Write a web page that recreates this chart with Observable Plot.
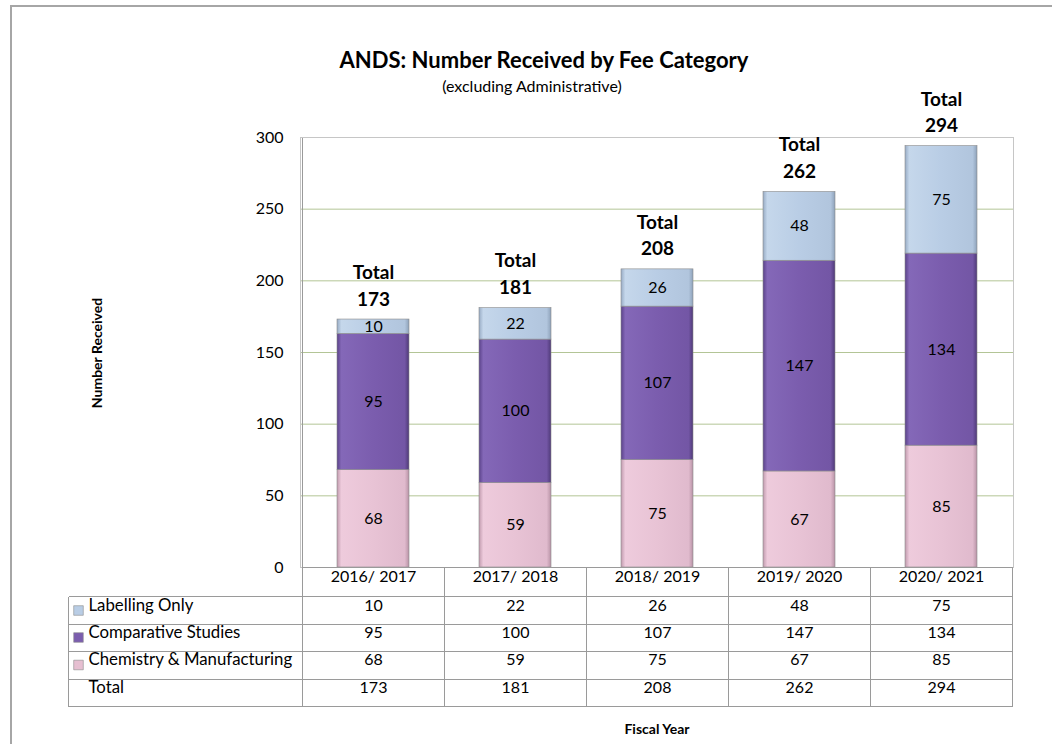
<!DOCTYPE html>
<html><head><meta charset="utf-8">
<script src="https://cdn.jsdelivr.net/npm/d3@7"></script>
<script src="https://cdn.jsdelivr.net/npm/@observablehq/plot@0.6"></script>
<style>
body{margin:0;background:#fff;font-family:Lato,"Open Sans",sans-serif;}
#wrap{position:relative;width:1052px;height:744px;overflow:hidden;background:#fff;}
#border{position:absolute;left:10px;top:5px;width:1100px;height:800px;border-left:2px solid #a6a6a6;border-top:2px solid #a6a6a6;}
.ov{position:absolute;font-family:Lato,sans-serif;color:#000;white-space:nowrap;transform:translate(-50%,-50%);}
#chart{position:absolute;left:0;top:0;}
</style></head><body>
<div id="wrap">
<div id="border"></div>
<svg width="0" height="0" style="position:absolute"><defs>
<linearGradient id="gLab" x1="0" x2="1" y1="0" y2="0">
<stop offset="0" stop-color="#97abc4"/><stop offset="0.06" stop-color="#c5d7eb"/><stop offset="0.5" stop-color="#b9cde5"/><stop offset="0.94" stop-color="#b1c5dd"/><stop offset="1" stop-color="#8ea2ba"/>
</linearGradient>
<linearGradient id="gComp" x1="0" x2="1" y1="0" y2="0">
<stop offset="0" stop-color="#5a4289"/><stop offset="0.06" stop-color="#8468b8"/><stop offset="0.5" stop-color="#7b5dae"/><stop offset="0.94" stop-color="#7356a5"/><stop offset="1" stop-color="#4f3a78"/>
</linearGradient>
<linearGradient id="gChem" x1="0" x2="1" y1="0" y2="0">
<stop offset="0" stop-color="#c09aad"/><stop offset="0.06" stop-color="#eecbdc"/><stop offset="0.5" stop-color="#e8c3d5"/><stop offset="0.94" stop-color="#e0bacd"/><stop offset="1" stop-color="#b893a6"/>
</linearGradient>
</defs></svg>
<div id="chart"></div>
<div class="ov" style="left:544px;top:59px;font-size:22px;font-weight:bold;">ANDS: Number Received by Fee Category</div>
<div class="ov" style="left:532px;top:85px;font-size:16px;">(excluding Administrative)</div>
<div class="ov" style="left:96px;top:353px;font-size:14px;font-weight:bold;transform:translate(-50%,-50%) rotate(-90deg);">Number Received</div>
<div class="ov" style="left:657px;top:728px;font-size:14px;font-weight:bold;">Fiscal Year</div>
</div>
<script>
const years = ["2016/ 2017","2017/ 2018","2018/ 2019","2019/ 2020","2020/ 2021"];
const seriesNames = ["Labelling Only","Comparative Studies","Chemistry & Manufacturing"];
const labelling = [10,22,26,48,75];
const comparative = [95,100,107,147,134];
const chemistry = [68,59,75,67,85];
const totals = [173,181,208,262,294];
const yTicks = [0,50,100,150,200,250,300];

const fills = {"Labelling Only":"url(#gLab)","Comparative Studies":"url(#gComp)","Chemistry & Manufacturing":"url(#gChem)"};
const keyColors = {"Labelling Only":"#b9cde5","Comparative Studies":"#7b5dae","Chemistry & Manufacturing":"#e6bfd1"};
const stackOrder = ["Chemistry & Manufacturing","Comparative Studies","Labelling Only"];

const seriesValues = {"Labelling Only":labelling,"Comparative Studies":comparative,"Chemistry & Manufacturing":chemistry};
const rows = years.flatMap((yr,i)=>stackOrder.map(s=>({year:yr, series:s, value:seriesValues[s][i]})));
const totalRows = years.map((yr,i)=>({year:yr,total:totals[i]}));

// table layout (row centres below the x axis, in px)
const tableRows = [
  {label:"Labelling Only", values:labelling, key:true},
  {label:"Comparative Studies", values:comparative, key:true},
  {label:"Chemistry & Manufacturing", values:chemistry, key:true},
  {label:"Total", values:totals, key:false}
];
const headerDy = 14.5;
const rowDy = [43, 70, 97.5, 125];
const rowLines = [29, 56.5, 84, 111.5, 139];

const tableMarks = tableRows.flatMap((r,i)=>{
  const m = [
    Plot.text(years, {x:d=>d, text:(d,j)=>r.values[j], frameAnchor:"bottom", dy:rowDy[i], fontSize:16}),
    Plot.text([r.label], {text:d=>d, frameAnchor:"bottom-left", dx:-212, dy:rowDy[i], textAnchor:"start", fontSize:16.8})
  ];
  if (r.key) m.push(Plot.dot([r.label], {frameAnchor:"bottom-left", dx:-222, dy:rowDy[i], symbol:"square", r:5.4, fill:keyColors[r.label], stroke:"#8c8c8c", strokeWidth:0.6}));
  return m;
});

const chart = Plot.plot({
  width:1052, height:744,
  marginTop:137, marginRight:39, marginBottom:177, marginLeft:300,
  style:{fontFamily:"Lato, sans-serif", fontSize:"16px", color:"#000", background:"transparent", overflow:"visible"},
  x:{domain:years, paddingInner:0.495, paddingOuter:0.2475, axis:null},
  y:{domain:[0,300], axis:null},
  marks:[
    Plot.ruleY(yTicks.filter(t=>t>0&&t<300), {stroke:"#b3c596", strokeWidth:1}),
    Plot.frame({stroke:"#c6c6c6"}),
    Plot.barY(rows, {x:"year", y:"value", z:"series", fill:d=>fills[d.series], order:stackOrder, stroke:"#8a8a8a", strokeWidth:0.6}),
    Plot.text(rows, Plot.stackY({x:"year", y:"value", z:"series", text:"value", order:stackOrder, fontSize:16})),
    Plot.text(totalRows, {x:"year", y:"total", text:d=>`Total\n${d.total}`, lineAnchor:"bottom", dy:-14, fontWeight:"bold", fontSize:19, lineHeight:1.4}),
    Plot.axisY({ticks:yTicks, tickSize:0, tickPadding:17, fontSize:16, label:null}),
    Plot.text(years, {x:d=>d, text:d=>d, frameAnchor:"bottom", dy:headerDy, fontSize:16}),
    ...tableMarks
  ]
});
document.getElementById("chart").appendChild(chart);

// table grid lines, positioned from Plot's own scales
const xs = chart.scale("x"), ys = chart.scale("y");
const first = xs.apply(years[0]) - (xs.step - xs.bandwidth)/2;
const bounds = d3.range(years.length+1).map(i=>first + i*xs.step);
const y0 = ys.apply(0), yTop = ys.apply(300);
const left = 68, right = bounds[bounds.length-1];
const r = v=>Math.round(v)+0.5;
const g = d3.select(chart).append("g").attr("stroke","#9a9a9a").attr("stroke-width",1).attr("shape-rendering","crispEdges");
const line = (x1,y1,x2,y2)=>g.append("line").attr("x1",r(x1)).attr("y1",r(y1)).attr("x2",r(x2)).attr("y2",r(y2));
line(bounds[0], y0, right, y0);
line(bounds[0], yTop, bounds[0], y0+rowLines[rowLines.length-1]);
rowLines.forEach(d=>line(left, y0+d, right, y0+d));
line(left, y0+rowLines[0], left, y0+rowLines[rowLines.length-1]);
bounds.slice(1).forEach(b=>line(b, y0, b, y0+rowLines[rowLines.length-1]));
</script>
</body></html>
